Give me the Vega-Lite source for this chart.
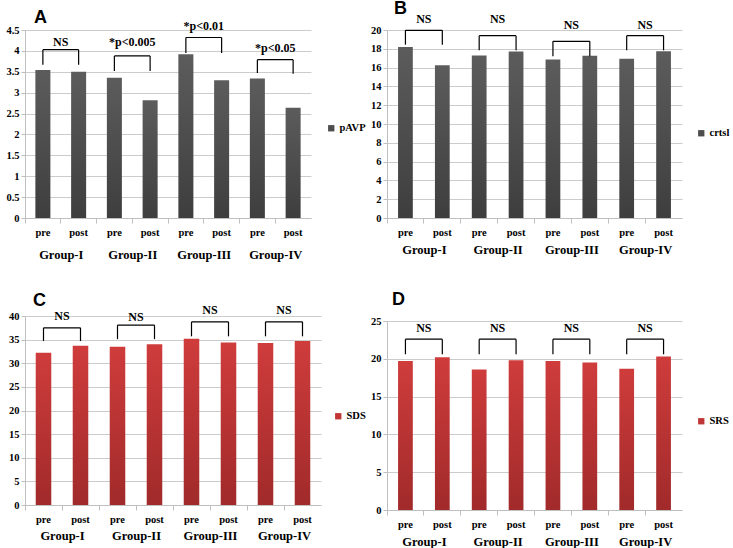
{
  "$schema": "https://vega.github.io/schema/vega-lite/v6.json",
  "padding": {"left": 5, "top": 0, "right": 0, "bottom": 0},
  "background": "white",
  "columns": 2,
  "align": "none",
  "spacing": {"row": 30, "column": 4},
  "resolve": {"scale": {"color": "independent", "y": "independent", "x": "independent"}},
  "config": {"view": {"stroke": null}, "font": "Liberation Serif"},
  "datasets": {
    "bars": [
      {"panel": "A", "group": "Group-I", "cat": "Group-I pre", "value": 3.54},
      {"panel": "A", "group": "Group-I", "cat": "Group-I post", "value": 3.50},
      {"panel": "A", "group": "Group-II", "cat": "Group-II pre", "value": 3.36},
      {"panel": "A", "group": "Group-II", "cat": "Group-II post", "value": 2.82},
      {"panel": "A", "group": "Group-III", "cat": "Group-III pre", "value": 3.92},
      {"panel": "A", "group": "Group-III", "cat": "Group-III post", "value": 3.30},
      {"panel": "A", "group": "Group-IV", "cat": "Group-IV pre", "value": 3.34},
      {"panel": "A", "group": "Group-IV", "cat": "Group-IV post", "value": 2.64},
      {"panel": "B", "group": "Group-I", "cat": "Group-I pre", "value": 18.2},
      {"panel": "B", "group": "Group-I", "cat": "Group-I post", "value": 16.25},
      {"panel": "B", "group": "Group-II", "cat": "Group-II pre", "value": 17.3},
      {"panel": "B", "group": "Group-II", "cat": "Group-II post", "value": 17.7},
      {"panel": "B", "group": "Group-III", "cat": "Group-III pre", "value": 16.85},
      {"panel": "B", "group": "Group-III", "cat": "Group-III post", "value": 17.25},
      {"panel": "B", "group": "Group-IV", "cat": "Group-IV pre", "value": 16.95},
      {"panel": "B", "group": "Group-IV", "cat": "Group-IV post", "value": 17.75},
      {"panel": "C", "group": "Group-I", "cat": "Group-I pre", "value": 32.2},
      {"panel": "C", "group": "Group-I", "cat": "Group-I post", "value": 33.7},
      {"panel": "C", "group": "Group-II", "cat": "Group-II pre", "value": 33.5},
      {"panel": "C", "group": "Group-II", "cat": "Group-II post", "value": 34.0},
      {"panel": "C", "group": "Group-III", "cat": "Group-III pre", "value": 35.2},
      {"panel": "C", "group": "Group-III", "cat": "Group-III post", "value": 34.4},
      {"panel": "C", "group": "Group-IV", "cat": "Group-IV pre", "value": 34.3},
      {"panel": "C", "group": "Group-IV", "cat": "Group-IV post", "value": 34.7},
      {"panel": "D", "group": "Group-I", "cat": "Group-I pre", "value": 19.7},
      {"panel": "D", "group": "Group-I", "cat": "Group-I post", "value": 20.2},
      {"panel": "D", "group": "Group-II", "cat": "Group-II pre", "value": 18.6},
      {"panel": "D", "group": "Group-II", "cat": "Group-II post", "value": 19.8},
      {"panel": "D", "group": "Group-III", "cat": "Group-III pre", "value": 19.7},
      {"panel": "D", "group": "Group-III", "cat": "Group-III post", "value": 19.5},
      {"panel": "D", "group": "Group-IV", "cat": "Group-IV pre", "value": 18.7},
      {"panel": "D", "group": "Group-IV", "cat": "Group-IV post", "value": 20.3}
    ],
    "brk": [
      {"panel": "A", "group": "Group-I", "pre": "Group-I pre", "post": "Group-I post", "top": 4.03, "legL": 3.67, "legR": 3.67, "label": "NS", "labelY": 4.21},
      {"panel": "A", "group": "Group-II", "pre": "Group-II pre", "post": "Group-II post", "top": 3.88, "legL": 3.52, "legR": 3.52, "label": "*p<0.005", "labelY": 4.21},
      {"panel": "A", "group": "Group-III", "pre": "Group-III pre", "post": "Group-III post", "top": 4.32, "legL": 3.95, "legR": 3.95, "label": "*p<0.01", "labelY": 4.6},
      {"panel": "A", "group": "Group-IV", "pre": "Group-IV pre", "post": "Group-IV post", "top": 3.79, "legL": 3.47, "legR": 3.45, "label": "*p<0.05", "labelY": 4.07},
      {"panel": "B", "group": "Group-I", "pre": "Group-I pre", "post": "Group-I post", "top": 19.97, "legL": 18.44, "legR": 18.44, "label": "NS", "labelY": 21.2},
      {"panel": "B", "group": "Group-II", "pre": "Group-II pre", "post": "Group-II post", "top": 19.4, "legL": 17.84, "legR": 17.84, "label": "NS", "labelY": 21.2},
      {"panel": "B", "group": "Group-III", "pre": "Group-III pre", "post": "Group-III post", "top": 18.8, "legL": 17.2, "legR": 17.2, "label": "NS", "labelY": 20.56},
      {"panel": "B", "group": "Group-IV", "pre": "Group-IV pre", "post": "Group-IV post", "top": 19.4, "legL": 17.84, "legR": 17.84, "label": "NS", "labelY": 20.56},
      {"panel": "C", "group": "Group-I", "pre": "Group-I pre", "post": "Group-I post", "top": 37.5, "legL": 34.7, "legR": 34.7, "label": "NS", "labelY": 39.9},
      {"panel": "C", "group": "Group-II", "pre": "Group-II pre", "post": "Group-II post", "top": 38.05, "legL": 35.1, "legR": 35.1, "label": "NS", "labelY": 39.7},
      {"panel": "C", "group": "Group-III", "pre": "Group-III pre", "post": "Group-III post", "top": 38.75, "legL": 35.7, "legR": 35.7, "label": "NS", "labelY": 41.2},
      {"panel": "C", "group": "Group-IV", "pre": "Group-IV pre", "post": "Group-IV post", "top": 38.75, "legL": 35.7, "legR": 35.7, "label": "NS", "labelY": 41.2},
      {"panel": "D", "group": "Group-I", "pre": "Group-I pre", "post": "Group-I post", "top": 22.6, "legL": 20.6, "legR": 20.6, "label": "NS", "labelY": 24.1},
      {"panel": "D", "group": "Group-II", "pre": "Group-II pre", "post": "Group-II post", "top": 22.6, "legL": 20.6, "legR": 20.6, "label": "NS", "labelY": 24.1},
      {"panel": "D", "group": "Group-III", "pre": "Group-III pre", "post": "Group-III post", "top": 22.6, "legL": 20.6, "legR": 20.6, "label": "NS", "labelY": 24.1},
      {"panel": "D", "group": "Group-IV", "pre": "Group-IV pre", "post": "Group-IV post", "top": 22.6, "legL": 20.6, "legR": 20.6, "label": "NS", "labelY": 24.1}
    ]
  },
  "concat": [
    {
      "title": {"text": "A", "anchor": "start", "frame": "group", "dx": 9, "offset": -7, "font": "Liberation Sans", "fontSize": 18, "fontWeight": "bold", "color": "black"},
      "width": 286, "height": 188,
      "resolve": {"scale": {"x": "independent"}},
      "layer": [
        {
          "data": {"name": "bars"}, "transform": [{"filter": "datum.panel === 'A'"}],
          "mark": {"type": "bar", "width": {"band": 0.42}, "color": {"gradient": "linear", "x1": 0, "y1": 0, "x2": 0, "y2": 1, "stops": [{"offset": 0, "color": "#5c5c5c"}, {"offset": 1, "color": "#3e3e3e"}]}},
          "encoding": {
            "x": {"field": "cat", "type": "nominal", "sort": null, "scale": {"domain": ["Group-I pre", "Group-I post", "Group-II pre", "Group-II post", "Group-III pre", "Group-III post", "Group-IV pre", "Group-IV post"], "paddingInner": 0, "paddingOuter": 0},
              "axis": {"title": null, "orient": "bottom", "labelExpr": "split(datum.label, ' ')[1]", "labelAngle": 0, "labelFont": "Liberation Serif", "labelFontWeight": "bold", "labelFontSize": 10.5, "labelColor": "black", "labelPadding": 4, "domainColor": "#bfbfbf", "tickColor": "#bfbfbf", "tickSize": 5, "bandPosition": 0, "grid": false}},
            "y": {"field": "value", "type": "quantitative", "scale": {"domain": [0, 4.5], "nice": false},
              "axis": {"title": null, "values": [0, 0.5, 1, 1.5, 2, 2.5, 3, 3.5, 4, 4.5], "format": "~g", "labelOverlap": false, "grid": true, "ticks": true, "labelFont": "Liberation Serif", "labelFontWeight": "bold", "labelFontSize": 10.5, "labelColor": "black", "labelPadding": 2, "domainColor": "#bfbfbf", "tickColor": "#bfbfbf", "tickSize": 4, "gridColor": "#cccccc", "gridWidth": 1.2}}
          }
        },
        {
          "data": {"name": "bars"}, "transform": [{"filter": "datum.panel === 'A' && datum.cat === 'Group-I pre'"}],
          "mark": {"type": "square", "opacity": 0},
          "encoding": {
            "color": {"datum": "pAVP", "scale": {"range": ["#4d4d4d"]},
              "legend": {"orient": "none", "legendX": 301, "legendY": 93, "title": null, "symbolType": "square", "symbolSize": 40, "symbolOpacity": 1, "symbolStrokeWidth": 0, "labelFont": "Liberation Serif", "labelFontWeight": "bold", "labelFontSize": 10.5, "labelColor": "black", "labelOffset": 3, "padding": 0}}
          }
        },
        {
          "data": {"name": "brk"}, "transform": [{"filter": "datum.panel === 'A'"}],
          "mark": {"type": "rule", "color": "black", "strokeWidth": 1.2},
          "encoding": {
            "x": {"field": "pre", "type": "nominal", "sort": null, "scale": {"domain": ["Group-I pre", "Group-I post", "Group-II pre", "Group-II post", "Group-III pre", "Group-III post", "Group-IV pre", "Group-IV post"], "paddingInner": 0, "paddingOuter": 0}, "axis": null},
            "x2": {"field": "post"},
            "y": {"field": "top", "type": "quantitative", "scale": {"domain": [0, 4.5], "nice": false},
              "axis": {"title": null, "values": [0, 0.5, 1, 1.5, 2, 2.5, 3, 3.5, 4, 4.5], "format": "~g", "labelOverlap": false, "grid": true, "ticks": true, "labelFont": "Liberation Serif", "labelFontWeight": "bold", "labelFontSize": 10.5, "labelColor": "black", "labelPadding": 2, "domainColor": "#bfbfbf", "tickColor": "#bfbfbf", "tickSize": 4, "gridColor": "#cccccc", "gridWidth": 1.2}}
          }
        },
        {
          "data": {"name": "brk"}, "transform": [{"filter": "datum.panel === 'A'"}],
          "mark": {"type": "rule", "color": "black", "strokeWidth": 1.2},
          "encoding": {
            "x": {"field": "pre", "type": "nominal", "sort": null, "scale": {"domain": ["Group-I pre", "Group-I post", "Group-II pre", "Group-II post", "Group-III pre", "Group-III post", "Group-IV pre", "Group-IV post"], "paddingInner": 0, "paddingOuter": 0}, "axis": null},
            "y": {"field": "legL", "type": "quantitative", "scale": {"domain": [0, 4.5], "nice": false},
              "axis": {"title": null, "values": [0, 0.5, 1, 1.5, 2, 2.5, 3, 3.5, 4, 4.5], "format": "~g", "labelOverlap": false, "grid": true, "ticks": true, "labelFont": "Liberation Serif", "labelFontWeight": "bold", "labelFontSize": 10.5, "labelColor": "black", "labelPadding": 2, "domainColor": "#bfbfbf", "tickColor": "#bfbfbf", "tickSize": 4, "gridColor": "#cccccc", "gridWidth": 1.2}},
            "y2": {"field": "top"}
          }
        },
        {
          "data": {"name": "brk"}, "transform": [{"filter": "datum.panel === 'A'"}],
          "mark": {"type": "rule", "color": "black", "strokeWidth": 1.2},
          "encoding": {
            "x": {"field": "post", "type": "nominal", "sort": null, "scale": {"domain": ["Group-I pre", "Group-I post", "Group-II pre", "Group-II post", "Group-III pre", "Group-III post", "Group-IV pre", "Group-IV post"], "paddingInner": 0, "paddingOuter": 0}, "axis": null},
            "y": {"field": "legR", "type": "quantitative", "scale": {"domain": [0, 4.5], "nice": false},
              "axis": {"title": null, "values": [0, 0.5, 1, 1.5, 2, 2.5, 3, 3.5, 4, 4.5], "format": "~g", "labelOverlap": false, "grid": true, "ticks": true, "labelFont": "Liberation Serif", "labelFontWeight": "bold", "labelFontSize": 10.5, "labelColor": "black", "labelPadding": 2, "domainColor": "#bfbfbf", "tickColor": "#bfbfbf", "tickSize": 4, "gridColor": "#cccccc", "gridWidth": 1.2}},
            "y2": {"field": "top"}
          }
        },
        {
          "data": {"name": "brk"}, "transform": [{"filter": "datum.panel === 'A'"}],
          "mark": {"type": "text", "font": "Liberation Serif", "fontWeight": "bold", "fontSize": 12, "baseline": "middle", "color": "black"},
          "encoding": {
            "x": {"field": "group", "type": "nominal", "sort": null, "scale": {"domain": ["Group-I", "Group-II", "Group-III", "Group-IV"], "paddingInner": 0, "paddingOuter": 0},
              "axis": {"title": null, "orient": "bottom", "offset": 27, "domain": false, "ticks": false, "grid": false, "labelAngle": 0, "labelFont": "Liberation Serif", "labelFontWeight": "bold", "labelFontSize": 12.5, "labelColor": "black", "labelPadding": 3}},
            "y": {"field": "labelY", "type": "quantitative", "scale": {"domain": [0, 4.5], "nice": false},
              "axis": {"title": null, "values": [0, 0.5, 1, 1.5, 2, 2.5, 3, 3.5, 4, 4.5], "format": "~g", "labelOverlap": false, "grid": true, "ticks": true, "labelFont": "Liberation Serif", "labelFontWeight": "bold", "labelFontSize": 10.5, "labelColor": "black", "labelPadding": 2, "domainColor": "#bfbfbf", "tickColor": "#bfbfbf", "tickSize": 4, "gridColor": "#cccccc", "gridWidth": 1.2}},
            "text": {"field": "label"}
          }
        }
      ]
    },
    {
      "title": {"text": "B", "anchor": "start", "frame": "group", "dx": 7, "offset": -5.6, "font": "Liberation Sans", "fontSize": 18, "fontWeight": "bold", "color": "black"},
      "width": 295, "height": 188,
      "resolve": {"scale": {"x": "independent"}},
      "layer": [
        {
          "data": {"name": "bars"}, "transform": [{"filter": "datum.panel === 'B'"}],
          "mark": {"type": "bar", "width": {"band": 0.4}, "color": {"gradient": "linear", "x1": 0, "y1": 0, "x2": 0, "y2": 1, "stops": [{"offset": 0, "color": "#5c5c5c"}, {"offset": 1, "color": "#3e3e3e"}]}},
          "encoding": {
            "x": {"field": "cat", "type": "nominal", "sort": null, "scale": {"domain": ["Group-I pre", "Group-I post", "Group-II pre", "Group-II post", "Group-III pre", "Group-III post", "Group-IV pre", "Group-IV post"], "paddingInner": 0, "paddingOuter": 0},
              "axis": {"title": null, "orient": "bottom", "labelExpr": "split(datum.label, ' ')[1]", "labelAngle": 0, "labelFont": "Liberation Serif", "labelFontWeight": "bold", "labelFontSize": 10.5, "labelColor": "black", "labelPadding": 4, "domainColor": "#bfbfbf", "tickColor": "#bfbfbf", "tickSize": 5, "bandPosition": 0, "grid": false}},
            "y": {"field": "value", "type": "quantitative", "scale": {"domain": [0, 20], "nice": false},
              "axis": {"title": null, "values": [0, 2, 4, 6, 8, 10, 12, 14, 16, 18, 20], "labelOverlap": false, "grid": true, "ticks": true, "labelFont": "Liberation Serif", "labelFontWeight": "bold", "labelFontSize": 10.5, "labelColor": "black", "labelPadding": 2, "domainColor": "#bfbfbf", "tickColor": "#bfbfbf", "tickSize": 4, "gridColor": "#cccccc", "gridWidth": 1.2}}
          }
        },
        {
          "data": {"name": "bars"}, "transform": [{"filter": "datum.panel === 'B' && datum.cat === 'Group-I pre'"}],
          "mark": {"type": "square", "opacity": 0},
          "encoding": {
            "color": {"datum": "crtsl", "scale": {"range": ["#4d4d4d"]},
              "legend": {"orient": "none", "legendX": 309, "legendY": 98, "title": null, "symbolType": "square", "symbolSize": 40, "symbolOpacity": 1, "symbolStrokeWidth": 0, "labelFont": "Liberation Serif", "labelFontWeight": "bold", "labelFontSize": 10.5, "labelColor": "black", "labelOffset": 3, "padding": 0}}
          }
        },
        {
          "data": {"name": "brk"}, "transform": [{"filter": "datum.panel === 'B'"}],
          "mark": {"type": "rule", "color": "black", "strokeWidth": 1.2},
          "encoding": {
            "x": {"field": "pre", "type": "nominal", "sort": null, "scale": {"domain": ["Group-I pre", "Group-I post", "Group-II pre", "Group-II post", "Group-III pre", "Group-III post", "Group-IV pre", "Group-IV post"], "paddingInner": 0, "paddingOuter": 0}, "axis": null},
            "x2": {"field": "post"},
            "y": {"field": "top", "type": "quantitative", "scale": {"domain": [0, 20], "nice": false},
              "axis": {"title": null, "values": [0, 2, 4, 6, 8, 10, 12, 14, 16, 18, 20], "labelOverlap": false, "grid": true, "ticks": true, "labelFont": "Liberation Serif", "labelFontWeight": "bold", "labelFontSize": 10.5, "labelColor": "black", "labelPadding": 2, "domainColor": "#bfbfbf", "tickColor": "#bfbfbf", "tickSize": 4, "gridColor": "#cccccc", "gridWidth": 1.2}}
          }
        },
        {
          "data": {"name": "brk"}, "transform": [{"filter": "datum.panel === 'B'"}],
          "mark": {"type": "rule", "color": "black", "strokeWidth": 1.2},
          "encoding": {
            "x": {"field": "pre", "type": "nominal", "sort": null, "scale": {"domain": ["Group-I pre", "Group-I post", "Group-II pre", "Group-II post", "Group-III pre", "Group-III post", "Group-IV pre", "Group-IV post"], "paddingInner": 0, "paddingOuter": 0}, "axis": null},
            "y": {"field": "legL", "type": "quantitative", "scale": {"domain": [0, 20], "nice": false},
              "axis": {"title": null, "values": [0, 2, 4, 6, 8, 10, 12, 14, 16, 18, 20], "labelOverlap": false, "grid": true, "ticks": true, "labelFont": "Liberation Serif", "labelFontWeight": "bold", "labelFontSize": 10.5, "labelColor": "black", "labelPadding": 2, "domainColor": "#bfbfbf", "tickColor": "#bfbfbf", "tickSize": 4, "gridColor": "#cccccc", "gridWidth": 1.2}},
            "y2": {"field": "top"}
          }
        },
        {
          "data": {"name": "brk"}, "transform": [{"filter": "datum.panel === 'B'"}],
          "mark": {"type": "rule", "color": "black", "strokeWidth": 1.2},
          "encoding": {
            "x": {"field": "post", "type": "nominal", "sort": null, "scale": {"domain": ["Group-I pre", "Group-I post", "Group-II pre", "Group-II post", "Group-III pre", "Group-III post", "Group-IV pre", "Group-IV post"], "paddingInner": 0, "paddingOuter": 0}, "axis": null},
            "y": {"field": "legR", "type": "quantitative", "scale": {"domain": [0, 20], "nice": false},
              "axis": {"title": null, "values": [0, 2, 4, 6, 8, 10, 12, 14, 16, 18, 20], "labelOverlap": false, "grid": true, "ticks": true, "labelFont": "Liberation Serif", "labelFontWeight": "bold", "labelFontSize": 10.5, "labelColor": "black", "labelPadding": 2, "domainColor": "#bfbfbf", "tickColor": "#bfbfbf", "tickSize": 4, "gridColor": "#cccccc", "gridWidth": 1.2}},
            "y2": {"field": "top"}
          }
        },
        {
          "data": {"name": "brk"}, "transform": [{"filter": "datum.panel === 'B'"}],
          "mark": {"type": "text", "font": "Liberation Serif", "fontWeight": "bold", "fontSize": 12, "baseline": "middle", "color": "black"},
          "encoding": {
            "x": {"field": "group", "type": "nominal", "sort": null, "scale": {"domain": ["Group-I", "Group-II", "Group-III", "Group-IV"], "paddingInner": 0, "paddingOuter": 0},
              "axis": {"title": null, "orient": "bottom", "offset": 22, "domain": false, "ticks": false, "grid": false, "labelAngle": 0, "labelFont": "Liberation Serif", "labelFontWeight": "bold", "labelFontSize": 12.5, "labelColor": "black", "labelPadding": 3}},
            "y": {"field": "labelY", "type": "quantitative", "scale": {"domain": [0, 20], "nice": false},
              "axis": {"title": null, "values": [0, 2, 4, 6, 8, 10, 12, 14, 16, 18, 20], "labelOverlap": false, "grid": true, "ticks": true, "labelFont": "Liberation Serif", "labelFontWeight": "bold", "labelFontSize": 10.5, "labelColor": "black", "labelPadding": 2, "domainColor": "#bfbfbf", "tickColor": "#bfbfbf", "tickSize": 4, "gridColor": "#cccccc", "gridWidth": 1.2}},
            "text": {"field": "label"}
          }
        }
      ]
    },
    {
      "title": {"text": "C", "anchor": "start", "frame": "group", "dx": 8, "offset": -5.3, "font": "Liberation Sans", "fontSize": 18, "fontWeight": "bold", "color": "black"},
      "width": 296, "height": 189,
      "resolve": {"scale": {"x": "independent"}},
      "layer": [
        {
          "data": {"name": "bars"}, "transform": [{"filter": "datum.panel === 'C'"}],
          "mark": {"type": "bar", "width": {"band": 0.42}, "color": {"gradient": "linear", "x1": 0, "y1": 0, "x2": 0, "y2": 1, "stops": [{"offset": 0, "color": "#cf3c3c"}, {"offset": 1, "color": "#a12a2a"}]}},
          "encoding": {
            "x": {"field": "cat", "type": "nominal", "sort": null, "scale": {"domain": ["Group-I pre", "Group-I post", "Group-II pre", "Group-II post", "Group-III pre", "Group-III post", "Group-IV pre", "Group-IV post"], "paddingInner": 0, "paddingOuter": 0},
              "axis": {"title": null, "orient": "bottom", "labelExpr": "split(datum.label, ' ')[1]", "labelAngle": 0, "labelFont": "Liberation Serif", "labelFontWeight": "bold", "labelFontSize": 10.5, "labelColor": "black", "labelPadding": 4, "domainColor": "#bfbfbf", "tickColor": "#bfbfbf", "tickSize": 5, "bandPosition": 0, "grid": false}},
            "y": {"field": "value", "type": "quantitative", "scale": {"domain": [0, 40], "nice": false},
              "axis": {"title": null, "values": [0, 5, 10, 15, 20, 25, 30, 35, 40], "labelOverlap": false, "grid": true, "ticks": true, "labelFont": "Liberation Serif", "labelFontWeight": "bold", "labelFontSize": 10.5, "labelColor": "black", "labelPadding": 2, "domainColor": "#bfbfbf", "tickColor": "#bfbfbf", "tickSize": 4, "gridColor": "#cccccc", "gridWidth": 1.2}}
          }
        },
        {
          "data": {"name": "bars"}, "transform": [{"filter": "datum.panel === 'C' && datum.cat === 'Group-I pre'"}],
          "mark": {"type": "square", "opacity": 0},
          "encoding": {
            "color": {"datum": "SDS", "scale": {"range": ["#c03535"]},
              "legend": {"orient": "none", "legendX": 308, "legendY": 95, "title": null, "symbolType": "square", "symbolSize": 40, "symbolOpacity": 1, "symbolStrokeWidth": 0, "labelFont": "Liberation Serif", "labelFontWeight": "bold", "labelFontSize": 10.5, "labelColor": "black", "labelOffset": 3, "padding": 0}}
          }
        },
        {
          "data": {"name": "brk"}, "transform": [{"filter": "datum.panel === 'C'"}],
          "mark": {"type": "rule", "color": "black", "strokeWidth": 1.2},
          "encoding": {
            "x": {"field": "pre", "type": "nominal", "sort": null, "scale": {"domain": ["Group-I pre", "Group-I post", "Group-II pre", "Group-II post", "Group-III pre", "Group-III post", "Group-IV pre", "Group-IV post"], "paddingInner": 0, "paddingOuter": 0}, "axis": null},
            "x2": {"field": "post"},
            "y": {"field": "top", "type": "quantitative", "scale": {"domain": [0, 40], "nice": false},
              "axis": {"title": null, "values": [0, 5, 10, 15, 20, 25, 30, 35, 40], "labelOverlap": false, "grid": true, "ticks": true, "labelFont": "Liberation Serif", "labelFontWeight": "bold", "labelFontSize": 10.5, "labelColor": "black", "labelPadding": 2, "domainColor": "#bfbfbf", "tickColor": "#bfbfbf", "tickSize": 4, "gridColor": "#cccccc", "gridWidth": 1.2}}
          }
        },
        {
          "data": {"name": "brk"}, "transform": [{"filter": "datum.panel === 'C'"}],
          "mark": {"type": "rule", "color": "black", "strokeWidth": 1.2},
          "encoding": {
            "x": {"field": "pre", "type": "nominal", "sort": null, "scale": {"domain": ["Group-I pre", "Group-I post", "Group-II pre", "Group-II post", "Group-III pre", "Group-III post", "Group-IV pre", "Group-IV post"], "paddingInner": 0, "paddingOuter": 0}, "axis": null},
            "y": {"field": "legL", "type": "quantitative", "scale": {"domain": [0, 40], "nice": false},
              "axis": {"title": null, "values": [0, 5, 10, 15, 20, 25, 30, 35, 40], "labelOverlap": false, "grid": true, "ticks": true, "labelFont": "Liberation Serif", "labelFontWeight": "bold", "labelFontSize": 10.5, "labelColor": "black", "labelPadding": 2, "domainColor": "#bfbfbf", "tickColor": "#bfbfbf", "tickSize": 4, "gridColor": "#cccccc", "gridWidth": 1.2}},
            "y2": {"field": "top"}
          }
        },
        {
          "data": {"name": "brk"}, "transform": [{"filter": "datum.panel === 'C'"}],
          "mark": {"type": "rule", "color": "black", "strokeWidth": 1.2},
          "encoding": {
            "x": {"field": "post", "type": "nominal", "sort": null, "scale": {"domain": ["Group-I pre", "Group-I post", "Group-II pre", "Group-II post", "Group-III pre", "Group-III post", "Group-IV pre", "Group-IV post"], "paddingInner": 0, "paddingOuter": 0}, "axis": null},
            "y": {"field": "legR", "type": "quantitative", "scale": {"domain": [0, 40], "nice": false},
              "axis": {"title": null, "values": [0, 5, 10, 15, 20, 25, 30, 35, 40], "labelOverlap": false, "grid": true, "ticks": true, "labelFont": "Liberation Serif", "labelFontWeight": "bold", "labelFontSize": 10.5, "labelColor": "black", "labelPadding": 2, "domainColor": "#bfbfbf", "tickColor": "#bfbfbf", "tickSize": 4, "gridColor": "#cccccc", "gridWidth": 1.2}},
            "y2": {"field": "top"}
          }
        },
        {
          "data": {"name": "brk"}, "transform": [{"filter": "datum.panel === 'C'"}],
          "mark": {"type": "text", "font": "Liberation Serif", "fontWeight": "bold", "fontSize": 12, "baseline": "middle", "color": "black"},
          "encoding": {
            "x": {"field": "group", "type": "nominal", "sort": null, "scale": {"domain": ["Group-I", "Group-II", "Group-III", "Group-IV"], "paddingInner": 0, "paddingOuter": 0},
              "axis": {"title": null, "orient": "bottom", "offset": 21, "domain": false, "ticks": false, "grid": false, "labelAngle": 0, "labelFont": "Liberation Serif", "labelFontWeight": "bold", "labelFontSize": 12.5, "labelColor": "black", "labelPadding": 3}},
            "y": {"field": "labelY", "type": "quantitative", "scale": {"domain": [0, 40], "nice": false},
              "axis": {"title": null, "values": [0, 5, 10, 15, 20, 25, 30, 35, 40], "labelOverlap": false, "grid": true, "ticks": true, "labelFont": "Liberation Serif", "labelFontWeight": "bold", "labelFontSize": 10.5, "labelColor": "black", "labelPadding": 2, "domainColor": "#bfbfbf", "tickColor": "#bfbfbf", "tickSize": 4, "gridColor": "#cccccc", "gridWidth": 1.2}},
            "text": {"field": "label"}
          }
        }
      ]
    },
    {
      "title": {"text": "D", "anchor": "start", "frame": "group", "dx": 5, "offset": 7, "font": "Liberation Sans", "fontSize": 18, "fontWeight": "bold", "color": "black"},
      "width": 295, "height": 189,
      "resolve": {"scale": {"x": "independent"}},
      "layer": [
        {
          "data": {"name": "bars"}, "transform": [{"filter": "datum.panel === 'D'"}],
          "mark": {"type": "bar", "width": {"band": 0.4}, "color": {"gradient": "linear", "x1": 0, "y1": 0, "x2": 0, "y2": 1, "stops": [{"offset": 0, "color": "#cf3c3c"}, {"offset": 1, "color": "#a12a2a"}]}},
          "encoding": {
            "x": {"field": "cat", "type": "nominal", "sort": null, "scale": {"domain": ["Group-I pre", "Group-I post", "Group-II pre", "Group-II post", "Group-III pre", "Group-III post", "Group-IV pre", "Group-IV post"], "paddingInner": 0, "paddingOuter": 0},
              "axis": {"title": null, "orient": "bottom", "labelExpr": "split(datum.label, ' ')[1]", "labelAngle": 0, "labelFont": "Liberation Serif", "labelFontWeight": "bold", "labelFontSize": 10.5, "labelColor": "black", "labelPadding": 4, "domainColor": "#bfbfbf", "tickColor": "#bfbfbf", "tickSize": 5, "bandPosition": 0, "grid": false}},
            "y": {"field": "value", "type": "quantitative", "scale": {"domain": [0, 25], "nice": false},
              "axis": {"title": null, "values": [0, 5, 10, 15, 20, 25], "labelOverlap": false, "grid": true, "ticks": true, "labelFont": "Liberation Serif", "labelFontWeight": "bold", "labelFontSize": 10.5, "labelColor": "black", "labelPadding": 2, "domainColor": "#bfbfbf", "tickColor": "#bfbfbf", "tickSize": 4, "gridColor": "#cccccc", "gridWidth": 1.2}}
          }
        },
        {
          "data": {"name": "bars"}, "transform": [{"filter": "datum.panel === 'D' && datum.cat === 'Group-I pre'"}],
          "mark": {"type": "square", "opacity": 0},
          "encoding": {
            "color": {"datum": "SRS", "scale": {"range": ["#c03535"]},
              "legend": {"orient": "none", "legendX": 309, "legendY": 95, "title": null, "symbolType": "square", "symbolSize": 40, "symbolOpacity": 1, "symbolStrokeWidth": 0, "labelFont": "Liberation Serif", "labelFontWeight": "bold", "labelFontSize": 10.5, "labelColor": "black", "labelOffset": 3, "padding": 0}}
          }
        },
        {
          "data": {"name": "brk"}, "transform": [{"filter": "datum.panel === 'D'"}],
          "mark": {"type": "rule", "color": "black", "strokeWidth": 1.2},
          "encoding": {
            "x": {"field": "pre", "type": "nominal", "sort": null, "scale": {"domain": ["Group-I pre", "Group-I post", "Group-II pre", "Group-II post", "Group-III pre", "Group-III post", "Group-IV pre", "Group-IV post"], "paddingInner": 0, "paddingOuter": 0}, "axis": null},
            "x2": {"field": "post"},
            "y": {"field": "top", "type": "quantitative", "scale": {"domain": [0, 25], "nice": false},
              "axis": {"title": null, "values": [0, 5, 10, 15, 20, 25], "labelOverlap": false, "grid": true, "ticks": true, "labelFont": "Liberation Serif", "labelFontWeight": "bold", "labelFontSize": 10.5, "labelColor": "black", "labelPadding": 2, "domainColor": "#bfbfbf", "tickColor": "#bfbfbf", "tickSize": 4, "gridColor": "#cccccc", "gridWidth": 1.2}}
          }
        },
        {
          "data": {"name": "brk"}, "transform": [{"filter": "datum.panel === 'D'"}],
          "mark": {"type": "rule", "color": "black", "strokeWidth": 1.2},
          "encoding": {
            "x": {"field": "pre", "type": "nominal", "sort": null, "scale": {"domain": ["Group-I pre", "Group-I post", "Group-II pre", "Group-II post", "Group-III pre", "Group-III post", "Group-IV pre", "Group-IV post"], "paddingInner": 0, "paddingOuter": 0}, "axis": null},
            "y": {"field": "legL", "type": "quantitative", "scale": {"domain": [0, 25], "nice": false},
              "axis": {"title": null, "values": [0, 5, 10, 15, 20, 25], "labelOverlap": false, "grid": true, "ticks": true, "labelFont": "Liberation Serif", "labelFontWeight": "bold", "labelFontSize": 10.5, "labelColor": "black", "labelPadding": 2, "domainColor": "#bfbfbf", "tickColor": "#bfbfbf", "tickSize": 4, "gridColor": "#cccccc", "gridWidth": 1.2}},
            "y2": {"field": "top"}
          }
        },
        {
          "data": {"name": "brk"}, "transform": [{"filter": "datum.panel === 'D'"}],
          "mark": {"type": "rule", "color": "black", "strokeWidth": 1.2},
          "encoding": {
            "x": {"field": "post", "type": "nominal", "sort": null, "scale": {"domain": ["Group-I pre", "Group-I post", "Group-II pre", "Group-II post", "Group-III pre", "Group-III post", "Group-IV pre", "Group-IV post"], "paddingInner": 0, "paddingOuter": 0}, "axis": null},
            "y": {"field": "legR", "type": "quantitative", "scale": {"domain": [0, 25], "nice": false},
              "axis": {"title": null, "values": [0, 5, 10, 15, 20, 25], "labelOverlap": false, "grid": true, "ticks": true, "labelFont": "Liberation Serif", "labelFontWeight": "bold", "labelFontSize": 10.5, "labelColor": "black", "labelPadding": 2, "domainColor": "#bfbfbf", "tickColor": "#bfbfbf", "tickSize": 4, "gridColor": "#cccccc", "gridWidth": 1.2}},
            "y2": {"field": "top"}
          }
        },
        {
          "data": {"name": "brk"}, "transform": [{"filter": "datum.panel === 'D'"}],
          "mark": {"type": "text", "font": "Liberation Serif", "fontWeight": "bold", "fontSize": 12, "baseline": "middle", "color": "black"},
          "encoding": {
            "x": {"field": "group", "type": "nominal", "sort": null, "scale": {"domain": ["Group-I", "Group-II", "Group-III", "Group-IV"], "paddingInner": 0, "paddingOuter": 0},
              "axis": {"title": null, "orient": "bottom", "offset": 22, "domain": false, "ticks": false, "grid": false, "labelAngle": 0, "labelFont": "Liberation Serif", "labelFontWeight": "bold", "labelFontSize": 12.5, "labelColor": "black", "labelPadding": 3}},
            "y": {"field": "labelY", "type": "quantitative", "scale": {"domain": [0, 25], "nice": false},
              "axis": {"title": null, "values": [0, 5, 10, 15, 20, 25], "labelOverlap": false, "grid": true, "ticks": true, "labelFont": "Liberation Serif", "labelFontWeight": "bold", "labelFontSize": 10.5, "labelColor": "black", "labelPadding": 2, "domainColor": "#bfbfbf", "tickColor": "#bfbfbf", "tickSize": 4, "gridColor": "#cccccc", "gridWidth": 1.2}},
            "text": {"field": "label"}
          }
        }
      ]
    }
  ]
}
